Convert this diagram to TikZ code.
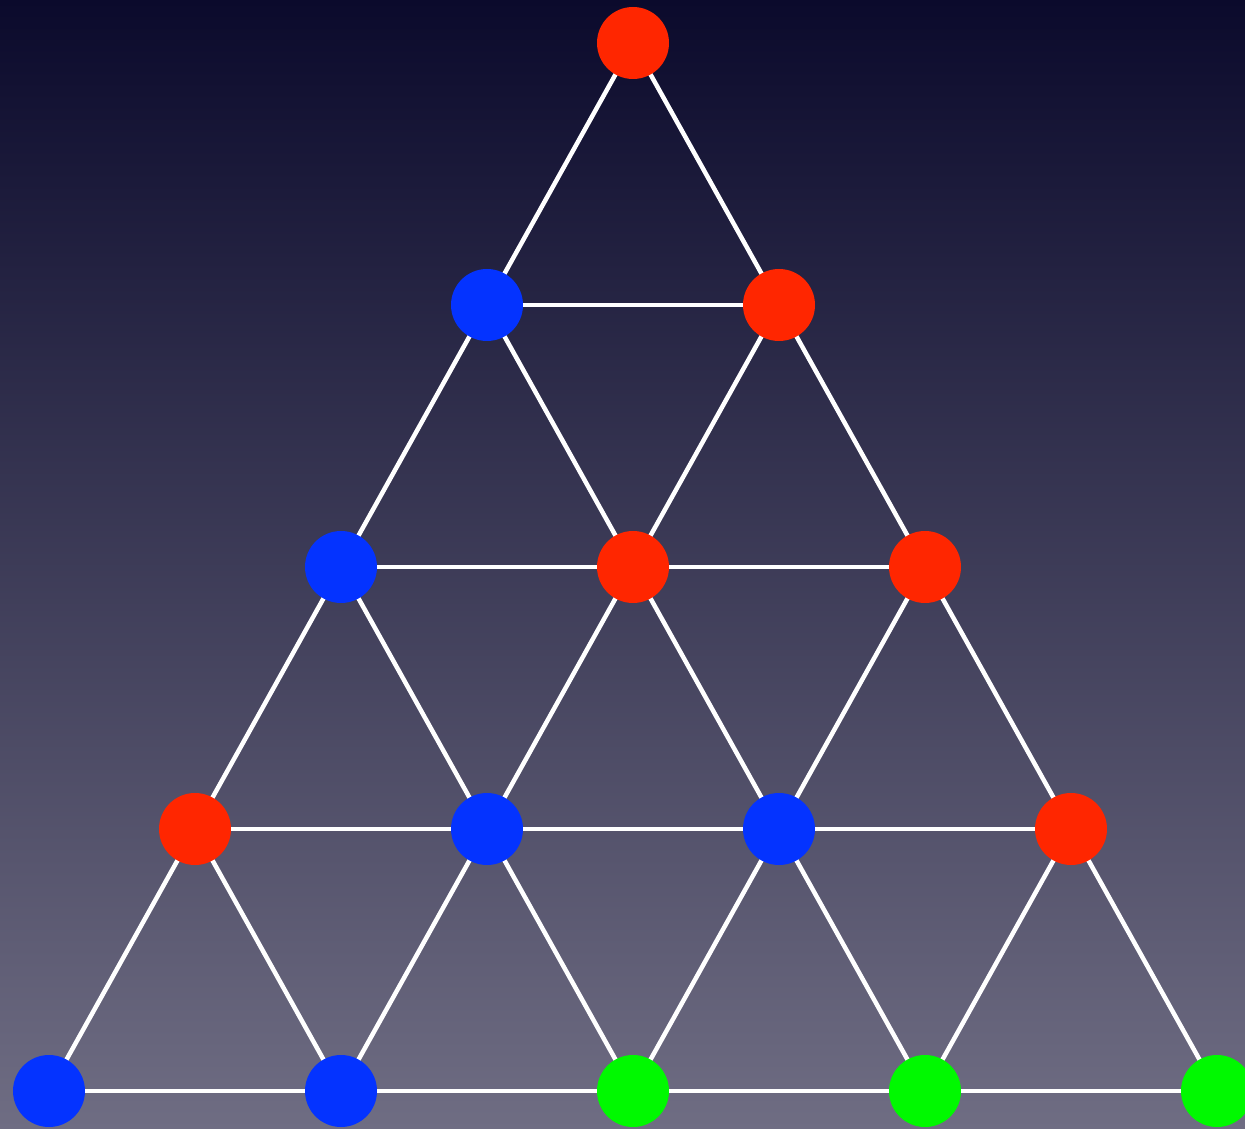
\documentclass[tikz,border=0pt]{standalone}
\usepackage{xcolor}
\usepackage{tikz}
\usetikzlibrary{positioning,calc}
\definecolor{cTop}{HTML}{0B0A2C}
\definecolor{cBot}{HTML}{6F6D83}
\definecolor{cRed}{HTML}{FF2600}
\definecolor{cBlue}{HTML}{0433FF}
\definecolor{cGreen}{HTML}{00F900}
\pgfdeclarelayer{bg}
\pgfdeclarelayer{edges}
\pgfsetlayers{bg,edges,main}
\tikzset{
  dot/.style    ={circle, inner sep=0pt, minimum size=1.44cm},
  red/.style    ={dot, fill=cRed},
  blue/.style   ={dot, fill=cBlue},
  green/.style  ={dot, fill=cGreen},
  link/.style   ={draw=white, line width=0.09cm},
}

\begin{document}
\begin{tikzpicture}

  % ===== background (fixes the page size) =====
  \begin{pgfonlayer}{bg}
    \shade[top color=cTop, bottom color=cBot] (0,0) rectangle (24.9,-22.58);
  \end{pgfonlayer}
  \useasboundingbox (0,0) rectangle (24.9,-22.58);

  % ===== lattice nodes, row by row =====
  % ---- row 0 ----
  \node[red]   (n00) at (12.66,-0.86) {};
  % ---- row 1 ----
  \node[blue]  (n10) at (9.74,-6.10) {};
  \node[red]   (n11) at (15.58,-6.10) {};
  % ---- row 2 ----
  \node[blue]  (n20) at (6.82,-11.34) {};
  \node[red]   (n21) at (12.66,-11.34) {};
  \node[red]   (n22) at (18.50,-11.34) {};
  % ---- row 3 ----
  \node[red]   (n30) at (3.90,-16.58) {};
  \node[blue]  (n31) at (9.74,-16.58) {};
  \node[blue]  (n32) at (15.58,-16.58) {};
  \node[red]   (n33) at (21.42,-16.58) {};
  % ---- row 4 ----
  \node[blue]  (n40) at (0.98,-21.82) {};
  \node[blue]  (n41) at (6.82,-21.82) {};
  \node[green] (n42) at (12.66,-21.82) {};
  \node[green] (n43) at (18.50,-21.82) {};
  \node[green] (n44) at (24.34,-21.82) {};

  % ===== edges (behind the dots) =====
  \begin{pgfonlayer}{edges}
    % ---- rows ----
    \foreach \a/\b in {n10/n11, n20/n21, n21/n22, n30/n31, n31/n32, n32/n33,
                       n40/n41, n41/n42, n42/n43, n43/n44}
      \draw[link] (\a.center) -- (\b.center);
    % ---- down-left / down-right ----
    \foreach \r/\s in {0/1, 1/2, 2/3, 3/4}
      \foreach \c in {0,...,\r} {
        \pgfmathtruncatemacro{\d}{\c+1}
        \draw[link] (n\r\c.center) -- (n\s\c.center);
        \draw[link] (n\r\c.center) -- (n\s\d.center);
      }
  \end{pgfonlayer}

\end{tikzpicture}
\end{document}
